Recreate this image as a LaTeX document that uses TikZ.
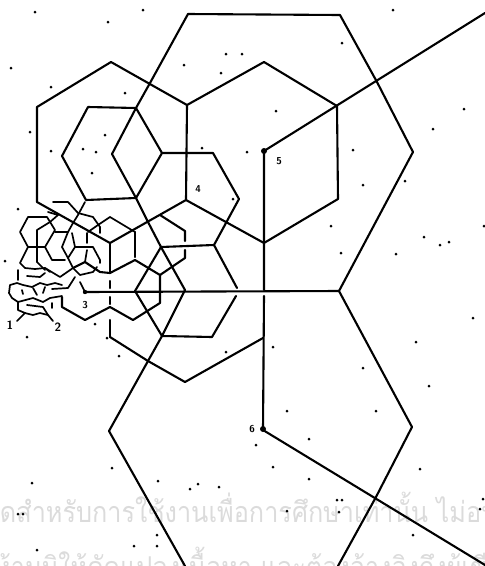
\documentclass[tikz,border=0pt]{standalone}
\usepackage{fontspec}
\newfontfamily\thaifont[Script=Thai]{Loma}
\tikzset{
  cellline/.style={line width=2.1pt},
  tinyline/.style={line width=1.7pt},
  stampline/.style={text=black!14,font=\thaifont\fontsize{28.7}{29}\selectfont,anchor=base west,inner sep=0pt,xscale=0.88,transform shape},
  cellnum/.style={font=\sffamily\bfseries\fontsize{10}{10}\selectfont,inner sep=0pt}
}
\begin{document}
\begin{tikzpicture}[x=1pt,y=-1pt,line cap=round,line join=round]
  \useasboundingbox (0,0) rectangle (485,566);
  \clip (0,0) rectangle (485,566);
  % stamp behind the scan
  \node[stampline] (stampa) at (-15,522) {จัดสำหรับการใช้งานเพื่อการศึกษาเท่านั้น ไม่อนุญาต};
  \node[stampline] (stampb) at (-6,577) {ห้ามมิให้ดัดแปลงเนื้อหา และต้องอ้างอิงถึงผู้เขียน};
  % largest ring
  \draw[cellline] (188,14)--(340,15)--(377,82)--(413,152)--(339,291)--(412,427)--(376,497)--(338,566);
  \draw[cellline] (188,14)--(150,83)--(136,108)--(112,154)--(136,198)--(148,222)--(161,247)--(185,290)--(162,336)--(148,361)--(109,431)--(185,566);
  % next ring
  \draw[cellline] (37,202)--(37,107)--(111,62)--(187,105)--(264,62)--(337,106)--(338,199)--(264,243)--(186,200)--(187,105);
  \draw[cellline] (37,202)--(110,243)--(186,200);
  \draw[cellline] (485,13)--(264,151)--(264,243)--(264,290);
  \draw[cellline] (264,296)--(263,430)--(485,565);
  \draw[cellline] (85,292)--(339,291);
  \draw[cellline] (110,337)--(148,361)--(185,382)--(263,338);
  % ring three
  \draw[cellline] (88,107)--(136,108)--(162,153)--(136,198)--(86,200)--(62,156)--cycle;
  \draw[cellline] (162,153)--(213,153)--(239,199)--(214,245)--(161,247);
  \draw[cellline] (214,245)--(237,288);
  \draw[cellline] (135,291)--(161,247);
  \draw[cellline] (135,291)--(162,336)--(212,337)--(236,296);
  \draw[cellline] (110,320)--(110,337);
  \draw[cellline] (110,243)--(110,273);
  \draw[cellline] (110,281)--(110,288);
  \draw[cellline] (110,297)--(110,304);
  \draw[cellline] (135,232)--(135,257);
  \draw[cellline] (160,215)--(185,231)--(185,241);
  \draw[cellline] (185,250)--(185,258)--(160,275)--(135,260)--(110,273)--(100,272)--(85,262)--(73,268);
  \draw[cellline] (160,275)--(160,303)--(133,320)--(110,307)--(85,320)--(62,307)--(62,297);
  % small rings on the left
  \draw[tinyline] (110,217)--(135,232);
  \draw[tinyline] (110,217)--(98,225)--(88,232);
  \draw[tinyline] (53,202)--(68,202)--(78,213)--(93,217)--(100,227)--(100,233);
  \draw[tinyline] (85,202)--(78,215)--(73,223)--(68,232)--(62,247)--(68,258)--(73,268);
  \draw[tinyline] (20,232)--(28,217)--(47,217)--(55,230)--(45,247)--(28,247)--cycle;
  \draw[tinyline] (37,262)--(37,230)--(50,222)--(58,215);
  \draw[tinyline] (48,212)--(58,215);
  \draw[tinyline] (55,232)--(68,232);
  \draw[tinyline] (45,247)--(52,260)--(65,260);
  \draw[tinyline] (72,233)--(75,247)--(93,247)--(100,260)--(100,263);
  \draw[tinyline] (75,247)--(68,258);
  \draw[tinyline] (87,233)--(87,243);
  \draw[tinyline] (87,250)--(85,262);
  % crowded bands
  \draw[tinyline] (28,247)--(20,263)--(25,268)--(35,269)--(45,268)--(50,272);
  \draw[tinyline] (37,262)--(45,270);
  \draw[tinyline] (73,268)--(60,277)--(45,268);
  \draw[tinyline] (73,268)--(80,275)--(93,272)--(97,267);
  \draw[tinyline] (27,276)--(40,277)--(45,273);
  \draw[tinyline] (18,270)--(18,280);
  \draw[tinyline] (75,277)--(68,288)--(52,289);
  \draw[tinyline] (62,285)--(55,283)--(47,285)--(40,283)--(32,287)--(23,285)--(17,283)--(10,285)--(9,293)--(12,298)--(18,302)--(33,298)--(43,302)--(50,298)--(62,296);
  \draw[tinyline] (22,290)--(23,294);
  \draw[tinyline] (33,288)--(37,295);
  \draw[tinyline] (45,287)--(43,293);
  \draw[tinyline] (18,302)--(18,310)--(25,313)--(17,321);
  \draw[tinyline] (27,305)--(43,307)--(48,315)--(53,321);
  \draw[tinyline] (25,313)--(33,315)--(40,313)--(48,315);
  \draw[tinyline] (52,303)--(52,308);
  \draw[tinyline] (80,282)--(85,292);
  % site marks and numbers
  \fill (264,151) circle (3);
  \fill (263,429) circle (3);
  \fill (85,292) circle (2.2);
  \node[cellnum] (site5) at (279,161) {5};
  \node[cellnum] (site4) at (198,189) {4};
  \node[cellnum] (site6) at (252,429) {6};
  \node[cellnum] (site3) at (85,305) {3};
  \node[cellnum,font=\sffamily\bfseries\fontsize{12}{12}\selectfont] (site1) at (10,325) {1};
  \node[cellnum,font=\sffamily\bfseries\fontsize{12}{12}\selectfont] (site2) at (58,327) {2};
  % specks of the scan
  \foreach \x/\y in {35/12,108/22,143/10,11/68,51/87,125/93,184/65,226/54,221/73,242/54,30/132,276/111,247/152,202/148,
    105/135,51/151,83/149,96/152,92/173,233/199,393/10,342/43,464/109,433/129,353/150,363/185,405/181,331/226,
    341/253,396/254,424/237,440/245,449/242,484/226,473/318,416/342,273/347,363/368,429/386,287/411,376/411,
    309/439,256/445,273/467,309/479,420/469,337/500,342/500,339/512,287/511,483/499,480/509,413/535,112/468,
    32/483,158/481,190/489,198/484,219/487,18/514,23/514,157/535,157/546,134/546,37/550,18/209,5/261,95/324,
    27/337,107/338,119/356,226/352}
    {\fill (\x,\y) circle (1.5);}
\end{tikzpicture}
\end{document}
